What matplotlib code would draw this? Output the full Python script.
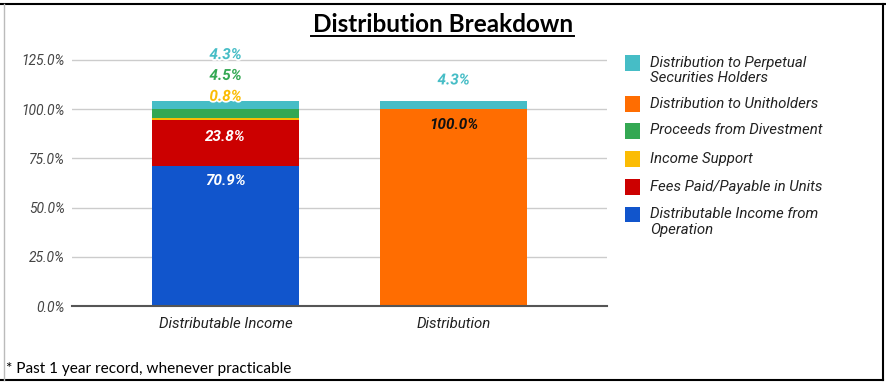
import matplotlib
matplotlib.use("Agg")
import matplotlib.pyplot as plt
import matplotlib.patheffects as pe
from matplotlib.lines import Line2D
from matplotlib.patches import Rectangle

categories = ["Distributable Income", "Distribution"]
series_names = ["Distributable Income from\nOperation", "Fees Paid/Payable in Units", "Income Support",
                "Proceeds from Divestment", "Distribution to Unitholders",
                "Distribution to Perpetual\nSecurities Holders"]
series_values = [
    [70.9, 0.0],   # operation
    [23.8, 0.0],   # fees
    [0.8, 0.0],    # income support
    [4.5, 0.0],    # divestment
    [0.0, 100.0],  # unitholders
    [4.3, 4.3],    # perpetual
]
colors = ["#1155CC", "#CC0000", "#FBBC04", "#34A853", "#FF6D01", "#46BDC6"]
legend_order = [5, 4, 3, 2, 1, 0]
yticks = [0, 25, 50, 75, 100, 125]
title = "Distribution Breakdown"
footnote = "* Past 1 year record, whenever practicable"

W, H = 886, 383
fig = plt.figure(figsize=(W / 100, H / 100), dpi=100)
ax = fig.add_axes([72 / W, 1 - 306 / H, (607 - 72) / W, (306 - 40.3) / H])

x = list(range(len(categories)))
bw = 0.645
bottoms = [0.0] * len(categories)
tops = {}
for si, vals in enumerate(series_values):
    ax.bar(x, vals, bw, bottom=bottoms, color=colors[si], zorder=3, linewidth=0)
    for ci, v in enumerate(vals):
        if v > 0:
            tops[(si, ci)] = (bottoms[ci], bottoms[ci] + v)
    bottoms = [b + v for b, v in zip(bottoms, vals)]

ax.set_xlim(-0.673, 1.673)
ax.set_ylim(0, 135)
ax.set_yticks(yticks)
ax.set_yticklabels([f"{t:.1f}%" for t in yticks], fontstyle="italic", family="Roboto",
                   color="#444444", fontsize=10)
ax.set_xticks(x)
ax.set_xticklabels(categories, fontstyle="italic", family="Roboto", color="#222222", fontsize=10.8)
ax.tick_params(axis="x", length=0, pad=8)
ax.tick_params(axis="y", length=0, pad=5)
ax.grid(axis="y", color="#CCCCCC", linewidth=1, zorder=0)
for s in ["top", "right", "left"]:
    ax.spines[s].set_visible(False)
ax.spines["bottom"].set_color("#555555")
ax.spines["bottom"].set_linewidth(1.5)
ax.spines["bottom"].set_zorder(4)

lab_kw = dict(ha="center", fontstyle="italic", fontweight="bold", family="Roboto", fontsize=11, zorder=5)
halo = [pe.withStroke(linewidth=2.5, foreground="white")]
# inside labels
for si, ci, col, off in [(0, 0, "white", 7.3), (1, 0, "white", 8.8), (4, 1, "#111111", 7.8)]:
    b, t = tops[(si, ci)]
    ax.text(ci, t - off, f"{series_values[si][ci]:.1f}%", va="center", color=col, **lab_kw)
# outside labels for small segments on first bar
tot0 = bottoms[0]
for k, si in enumerate([2, 3, 5]):
    ax.text(0, tot0 + 2.0 + k * 10.6, f"{series_values[si][0]:.1f}%", va="center", color=colors[si],
            path_effects=halo, **lab_kw)
ax.text(1, bottoms[1] + 10.3, f"{series_values[5][1]:.1f}%", va="center", color=colors[5],
        path_effects=halo, **lab_kw)

# legend (manual)
ys = [63, 104, 131, 159, 187, 215]
for y, si in zip(ys, legend_order):
    fig.add_artist(Rectangle((624.5 / W, 1 - (y + 7.5) / H), 15.5 / W, 15.5 / H, transform=fig.transFigure,
                             color=colors[si], linewidth=0))
    for li, line in enumerate(series_names[si].split("\n")):
        fig.text(650 / W, 1 - (y - 0.5 + li * 15) / H, line, ha="left", va="center", fontstyle="italic",
                 family="Roboto", fontsize=10.8, color="#222222")

fig.text(443 / W, 1 - 24 / H, title, ha="center", va="center", family="Lato", fontweight="bold",
         fontsize=17.5, color="black")
# underline
fig.add_artist(Line2D([311 / W, 574 / W], [1 - 36 / H, 1 - 36 / H], color="black", linewidth=1.4))

fig.text(6 / W, 1 - 368.5 / H, footnote, ha="left", va="center", family="Lato", fontsize=11.1, color="black")

# border
fig.add_artist(Line2D([0, 1], [1 - 3.5 / H, 1 - 3.5 / H], color="black", linewidth=1.5))
fig.add_artist(Line2D([882.5 / W, 882.5 / W], [1 - 3.5 / H, 1 - 379.5 / H], color="black", linewidth=1.5))
fig.add_artist(Line2D([0, 882.5 / W], [1 - 379.5 / H, 1 - 379.5 / H], color="black", linewidth=1.5))
fig.add_artist(Line2D([3.5 / W, 3.5 / W], [1 - 3.5 / H, 1 - 379.5 / H], color="#BBBBBB", linewidth=1))

fig.savefig("out.png", dpi=100)
